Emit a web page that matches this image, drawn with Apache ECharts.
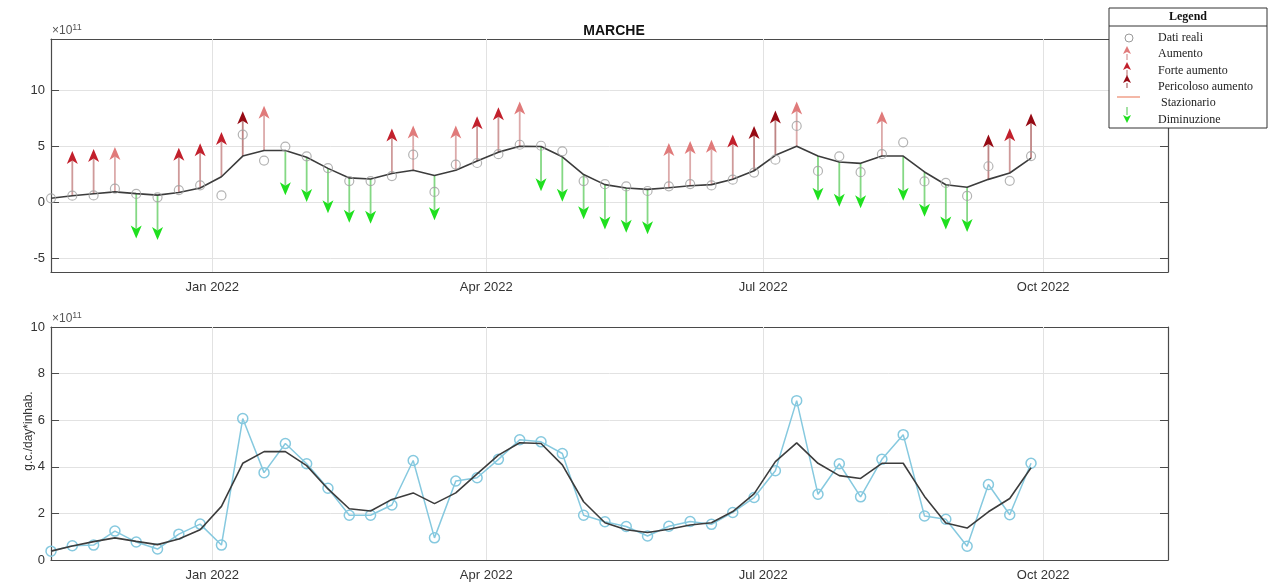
<!DOCTYPE html>
<html>
<head>
<meta charset="utf-8">
<script src="https://cdn.jsdelivr.net/npm/echarts@6.0.0/dist/echarts.min.js"></script>
<style>
  html, body { margin: 0; padding: 0; background: #fff; }
  #chart { width: 1271px; height: 584px; }
</style>
</head>
<body>
<div id="chart"></div>
<script>
// weekly samples (values in units of 1e11 g.c./day*inhab.)
const weeks = [
  '2021-11-09', '2021-11-16', '2021-11-23', '2021-11-30', '2021-12-07', '2021-12-14', '2021-12-21', '2021-12-28',
  '2022-01-04', '2022-01-11', '2022-01-18', '2022-01-25', '2022-02-01', '2022-02-08', '2022-02-15', '2022-02-22',
  '2022-03-01', '2022-03-08', '2022-03-15', '2022-03-22', '2022-03-29', '2022-04-05', '2022-04-12', '2022-04-19',
  '2022-04-26', '2022-05-03', '2022-05-10', '2022-05-17', '2022-05-24', '2022-05-31', '2022-06-07', '2022-06-14',
  '2022-06-21', '2022-06-28', '2022-07-05', '2022-07-12', '2022-07-19', '2022-07-26', '2022-08-02', '2022-08-09',
  '2022-08-16', '2022-08-23', '2022-08-30', '2022-09-06', '2022-09-13', '2022-09-20', '2022-09-27'
]
const realValues = [
  0.38, 0.61, 0.64, 1.24, 0.77, 0.47, 1.11, 1.54, 0.64, 6.07, 3.75, 5.00, 4.13, 3.08, 1.92, 1.92,
  2.36, 4.27, 0.95, 3.39, 3.53, 4.32, 5.16, 5.07, 4.57, 1.92, 1.64, 1.44, 1.03, 1.45, 1.65, 1.53,
  2.04, 2.68, 3.83, 6.84, 2.82, 4.13, 2.71, 4.32, 5.38, 1.89, 1.75, 0.59, 3.24, 1.94, 4.15
]
const trendValues = [
  0.38, 0.60, 0.79, 0.95, 0.80, 0.66, 0.90, 1.30, 2.30, 4.15, 4.65, 4.65, 4.05, 3.05, 2.20, 2.10,
  2.60, 2.88, 2.42, 2.88, 3.70, 4.50, 5.03, 5.00, 4.08, 2.50, 1.60, 1.30, 1.18, 1.32, 1.50, 1.60,
  2.08, 2.84, 4.22, 5.03, 4.15, 3.62, 3.50, 4.15, 4.15, 2.73, 1.59, 1.37, 2.07, 2.64, 3.96
]
// 0 stazionario, 1 aumento, 2 forte aumento, 3 pericoloso aumento, -1 diminuzione
const trendClass = [
  0, 2, 2, 1, -1, -1, 2, 2, 2, 3, 1, -1, -1, -1, -1, -1,
  2, 1, -1, 1, 2, 2, 1, -1, -1, -1, -1, -1, -1, 1, 1, 1,
  2, 3, 3, 1, -1, -1, -1, 1, -1, -1, -1, -1, 3, 2, 3
]
const monthTicks = ['2022-01-01', '2022-04-01', '2022-07-01', '2022-10-01']
const xRange = ['2021-11-09', '2022-11-11']
const yTopRange = [-6.2, 14.6]
const yBottomRange = [0, 10]

const ARROW_LEN = 4
const FRAME = '#4a4a4a'
const GRID = '#e2e2e2'
const TXT = '#333'
const SANS = '"Liberation Sans", Arial, sans-serif'
const SERIF = '"Liberation Serif", "Times New Roman", serif'
const MONTHS = ['Jan', 'Feb', 'Mar', 'Apr', 'May', 'Jun', 'Jul', 'Aug', 'Sep', 'Oct', 'Nov', 'Dec']
const ARROW_STYLE = {
  '1': { head: '#e07a7a', stem: '#dcaaaa' },
  '2': { head: '#c2202c', stem: '#cf9a9a' },
  '3': { head: '#960a14', stem: '#bf8585' },
  '-1': { head: '#1fe01f', stem: '#84d884' },
}

const ts = s => Date.parse(s + 'T00:00:00Z')
const tickTs = monthTicks.map(ts)
const fmtMonth = v => {
  const d = new Date(v)
  return MONTHS[d.getUTCMonth()] + ' ' + d.getUTCFullYear()
}

const realPts = weeks.map((w, i) => [ts(w), realValues[i]])
const trendPts = weeks.map((w, i) => [ts(w), trendValues[i]])
const arrowPts = weeks.map((w, i) => {
  const c = trendClass[i]
  const dir = c > 0 ? 1 : c < 0 ? -1 : 0
  return [ts(w), trendValues[i], trendValues[i] + dir * ARROW_LEN, c]
})

function xAx(gridIndex, position, showLabel) {
  return {
    type: 'value', gridIndex, position,
    min: ts(xRange[0]), max: ts(xRange[1]),
    axisLine: { show: true, onZero: false, lineStyle: { color: FRAME, width: 1.2 } },
    axisTick: { show: true, inside: true, length: 8, customValues: tickTs, lineStyle: { color: FRAME } },
    axisLabel: {
      show: showLabel, customValues: tickTs, formatter: fmtMonth,
      color: TXT, fontSize: 13, fontFamily: SANS, margin: 9,
    },
    splitLine: { show: false },
  }
}

function yAx(gridIndex, position, range, showLabel) {
  return {
    type: 'value', gridIndex, position,
    min: range[0], max: range[1], splitNumber: 5,
    axisLine: { show: true, onZero: false, lineStyle: { color: FRAME, width: 1.2 } },
    axisTick: { show: true, inside: true, length: 8, lineStyle: { color: FRAME } },
    axisLabel: {
      show: showLabel, color: TXT, fontSize: 13, fontFamily: SANS, margin: 6,
      showMinLabel: range[0] % 1 === 0, showMaxLabel: range[1] % 1 === 0,
    },
    splitLine: { show: position === 'left', lineStyle: { color: GRID, width: 1 } },
  }
}

function renderArrow(params, api) {
  const cls = api.value(3)
  if (cls === 0) return
  const base = api.coord([api.value(0), api.value(1)])
  const tip = api.coord([api.value(0), api.value(2)])
  const dir = tip[1] < base[1] ? -1 : 1
  const headLen = 13, headHalf = 5.5, notch = 3.5
  const st = ARROW_STYLE[String(cls)]
  const backY = tip[1] - dir * headLen
  return {
    type: 'group',
    children: [
      { type: 'line', shape: { x1: base[0], y1: base[1], x2: tip[0], y2: backY + dir * notch },
        style: { stroke: st.stem, lineWidth: 1.8 } },
      { type: 'polygon',
        shape: { points: [[tip[0], tip[1]], [tip[0] - headHalf, backY], [tip[0], backY + dir * notch], [tip[0] + headHalf, backY]] },
        style: { fill: st.head } },
    ],
  }
}

const monthLines = {
  silent: true, z: 1, symbol: ['none', 'none'], label: { show: false },
  lineStyle: { color: GRID, type: 'solid', width: 1 },
  emphasis: { disabled: true },
  data: tickTs.map(t => ({ xAxis: t })),
}

// legend (drawn as graphic, like the MATLAB legend box)
function legendArrow(x, yTip, yBase, color, stem) {
  const dir = yBase > yTip ? -1 : 1
  const back = yTip - dir * 8
  return [
    { type: 'line', shape: { x1: x, y1: yBase, x2: x, y2: back }, style: { stroke: stem, lineWidth: 1.5 } },
    { type: 'polygon', shape: { points: [[x, yTip], [x - 4, back], [x, back + dir * 2], [x + 4, back]] }, style: { fill: color } },
  ]
}
const LX = 1109, LY = 8, LW = 158, LH = 120, SX = 1127, TX = 1158
const legendItems = ['Dati reali', 'Aumento', 'Forte aumento', 'Pericoloso aumento', ' Stazionario', 'Diminuzione']
const legendYs = [38, 54, 71, 87, 103, 120]
const legendGraphic = [
  { type: 'rect', shape: { x: LX, y: LY, width: LW, height: LH }, style: { fill: '#fff', stroke: '#333', lineWidth: 1 }, z: 100 },
  { type: 'line', shape: { x1: LX, y1: 26, x2: LX + LW, y2: 26 }, style: { stroke: '#333', lineWidth: 1 }, z: 101 },
  { type: 'text', x: LX + LW / 2, y: 17, z: 101,
    style: { text: 'Legend', font: 'bold 12px ' + SERIF, fill: '#111', align: 'center', verticalAlign: 'middle' } },
  ...legendItems.map((t, i) => ({
    type: 'text', x: TX, y: legendYs[i], z: 101,
    style: { text: t, font: '12px ' + SERIF, fill: '#222', verticalAlign: 'middle' },
  })),
  { type: 'circle', shape: { cx: SX + 2, cy: 38, r: 4 }, style: { fill: 'none', stroke: '#999', lineWidth: 1 }, z: 101 },
  ...legendArrow(SX, 46, 60, ARROW_STYLE['1'].head, ARROW_STYLE['1'].stem).map(e => ({ ...e, z: 101 })),
  ...legendArrow(SX, 62, 76, ARROW_STYLE['2'].head, ARROW_STYLE['2'].stem).map(e => ({ ...e, z: 101 })),
  ...legendArrow(SX, 75, 88, ARROW_STYLE['3'].head, ARROW_STYLE['3'].stem).map(e => ({ ...e, z: 101 })),
  { type: 'line', shape: { x1: 1117, y1: 97, x2: 1140, y2: 97 }, style: { stroke: '#f0a08a', lineWidth: 1.5 }, z: 101 },
  ...legendArrow(SX, 123, 107, ARROW_STYLE['-1'].head, ARROW_STYLE['-1'].stem).map(e => ({ ...e, z: 101 })),
]

const expLabel = (x, y) => ({
  type: 'text', x, y,
  style: {
    text: '×10{s|11}', fill: '#555', font: '12px ' + SANS,
    rich: { s: { fontSize: 9, fontFamily: SANS, fill: '#555', verticalAlign: 'top', padding: [0, 0, 7, 0] } },
  },
})

const yName = {
  type: 'text', x: 29, y: 431, rotation: Math.PI / 2,
  style: { text: 'g.c./day*inhab.', font: '12px ' + SANS, fill: TXT, align: 'center', verticalAlign: 'middle' },
}

const chart = echarts.init(document.getElementById('chart'))
chart.setOption({
  animation: false,
  backgroundColor: '#fff',
  title: {
    text: 'MARCHE', left: 609, top: 19, textAlign: 'center',
    textStyle: { fontSize: 14, fontWeight: 'bold', color: '#111', fontFamily: SANS },
  },
  grid: [
    { left: 51, top: 39, width: 1117, height: 233, outerBoundsMode: 'none' },
    { left: 51, top: 327, width: 1117, height: 233, outerBoundsMode: 'none' },
  ],
  xAxis: [xAx(0, 'bottom', true), xAx(0, 'top', false), xAx(1, 'bottom', true), xAx(1, 'top', false)],
  yAxis: [
    yAx(0, 'left', yTopRange, true),
    yAx(0, 'right', yTopRange, false),
    yAx(1, 'left', yBottomRange, true),
    yAx(1, 'right', yBottomRange, false),
  ],
  graphic: [expLabel(52, 23), expLabel(52, 311), yName, ...legendGraphic],
  series: [
    {
      name: 'arrows', type: 'custom', xAxisIndex: 0, yAxisIndex: 0,
      renderItem: renderArrow, encode: { x: 0, y: [1, 2] }, data: arrowPts, clip: false, silent: true, z: 2,
    },
    {
      name: 'trendTop', type: 'line', xAxisIndex: 0, yAxisIndex: 0, data: trendPts,
      showSymbol: false, lineStyle: { color: '#3c3c3c', width: 1.6 }, silent: true, z: 3,
      markLine: monthLines,
    },
    {
      name: 'Dati reali', type: 'scatter', xAxisIndex: 0, yAxisIndex: 0, data: realPts,
      symbol: 'circle', symbolSize: 9, silent: true, z: 4,
      itemStyle: { color: 'rgba(255,255,255,0)', borderColor: '#a0a0a0', borderWidth: 1.2 },
    },
    {
      name: 'realBottom', type: 'line', xAxisIndex: 2, yAxisIndex: 2, data: realPts,
      symbol: 'circle', symbolSize: 10, showAllSymbol: true, silent: true, z: 3,
      lineStyle: { color: '#86c9df', width: 1.5 },
      itemStyle: { color: 'rgba(255,255,255,0)', borderColor: '#86c9df', borderWidth: 1.5 },
      markLine: monthLines,
    },
    {
      name: 'trendBottom', type: 'line', xAxisIndex: 2, yAxisIndex: 2, data: trendPts,
      showSymbol: false, lineStyle: { color: '#3c3c3c', width: 1.6 }, silent: true, z: 4,
    },
  ],
})
</script>
</body>
</html>
